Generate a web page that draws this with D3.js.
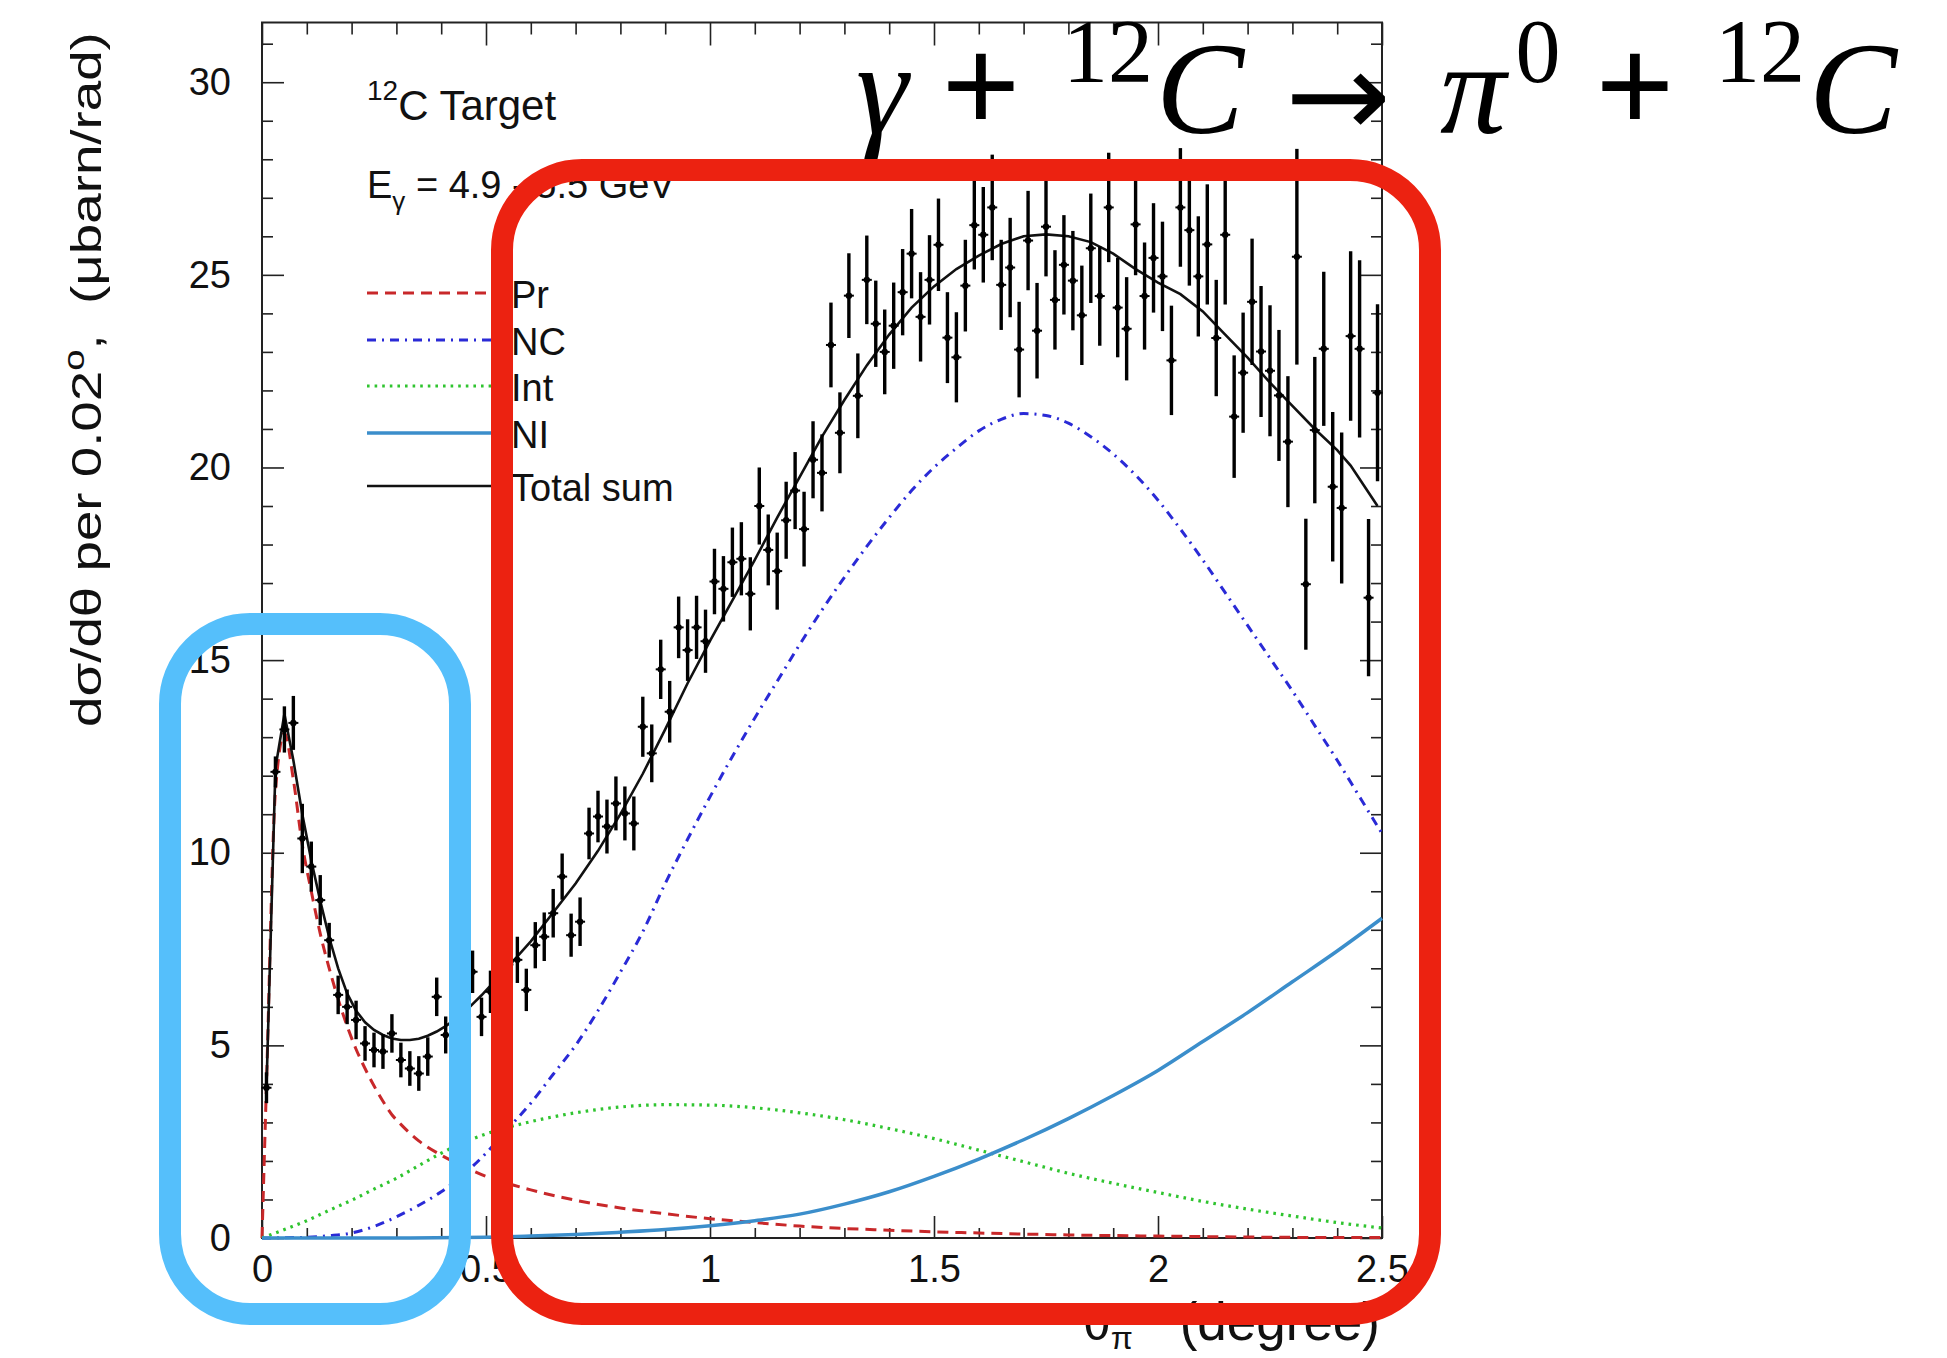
<!DOCTYPE html>
<html>
<head>
<meta charset="UTF-8">
<script src="https://cdn.jsdelivr.net/npm/d3@7"></script>
<style>
body { margin: 0; background: #fff; }
svg text { font-family: "Liberation Sans", Arial, Helvetica, sans-serif; fill: #111; }
.serif { font-family: "Liberation Serif", "Times New Roman", "DejaVu Serif", serif !important; }
.arrow { font-family: "DejaVu Sans", sans-serif !important; }
</style>
</head>
<body>
<svg width="1947" height="1358"></svg>
<script>
// measured cross section, 0.02 degree bins starting at 0
const binWidth = 0.02;
const xsec = [
  3.90, 12.10, 13.20, 13.37, 10.37, 9.64, 8.77, 7.73, 6.31, 6.00,
  5.66, 5.05, 4.88, 4.84, 5.31, 4.62, 4.40, 4.27, 4.71, 6.26,
  5.27, 5.60, 6.00, 6.91, 5.74, 6.39, 6.90, 7.10, 7.22, 6.44,
  7.60, 7.82, 8.43, 9.38, 7.86, 8.21, 10.50, 10.94, 10.68, 11.28,
  11.02, 10.76, 13.27, 12.58, 14.76, 13.66, 15.85, 15.26, 15.85, 15.49,
  17.04, 16.85, 17.54, 17.63, 16.72, 19.00, 17.86, 17.31, 18.63, 19.40,
  18.40, 20.20, 19.86, 23.18, 20.90, 24.46, 21.86, 24.87, 23.73, 23.00,
  23.68, 24.55, 25.55, 23.91, 24.87, 25.78, 23.37, 22.86, 24.72, 26.29,
  26.04, 26.75, 24.74, 25.19, 23.06, 25.89, 23.55, 26.25, 24.35, 25.26,
  24.85, 23.95, 25.69, 24.45, 26.75, 24.15, 23.60, 26.31, 24.45, 25.44,
  24.96, 22.78, 26.75, 26.16, 24.96, 25.79, 23.36, 26.04, 21.32, 22.46,
  24.30, 23.01, 22.51, 21.87, 20.67, 25.47, 16.97, 20.97, 23.08, 19.50,
  18.95, 23.41, 23.08, 16.62, 21.94
];
const xsecErr = [
  0.40, 0.40, 0.60, 0.70, 0.90, 0.65, 0.65, 0.45, 0.50, 0.45,
  0.50, 0.45, 0.45, 0.45, 0.50, 0.45, 0.45, 0.45, 0.50, 0.50,
  0.48, 0.50, 0.50, 0.55, 0.50, 0.55, 0.55, 0.55, 0.60, 0.55,
  0.60, 0.63, 0.63, 0.60, 0.56, 0.63, 0.67, 0.67, 0.70, 0.70,
  0.70, 0.70, 0.78, 0.75, 0.77, 0.80, 0.80, 0.80, 0.82, 0.82,
  0.85, 0.85, 0.90, 0.95, 0.95, 1.00, 0.92, 1.00, 1.00, 1.00,
  0.97, 1.00, 1.00, 1.10, 1.05, 1.10, 1.10, 1.15, 1.12, 1.10,
  1.12, 1.12, 1.16, 1.16, 1.16, 1.20, 1.18, 1.17, 1.19, 1.15,
  1.24, 1.37, 1.17, 1.29, 1.24, 1.29, 1.24, 1.29, 1.29, 1.29,
  1.29, 1.29, 1.42, 1.29, 1.42, 1.29, 1.34, 1.32, 1.39, 1.42,
  1.42, 1.42, 1.54, 1.44, 1.56, 1.56, 1.51, 1.81, 1.59, 1.56,
  1.64, 1.70, 1.70, 1.70, 1.70, 2.80, 1.70, 1.90, 2.00, 1.94,
  1.96, 2.20, 2.30, 2.04, 2.30
];

// model components [theta, dsigma/dtheta]
const primakoff = [[0,0],[0.01,4.0],[0.03,11.6],[0.05,13.1],[0.07,11.9],[0.09,10.2],[0.11,9.0],
  [0.13,7.9],[0.15,7.0],[0.17,6.2],[0.19,5.5],[0.21,4.9],[0.23,4.4],[0.25,3.95],[0.27,3.55],
  [0.29,3.2],[0.31,2.95],[0.33,2.72],[0.35,2.52],[0.4,2.15],[0.45,1.86],[0.5,1.6],[0.6,1.25],
  [0.7,0.98],[0.8,0.78],[0.9,0.63],[1.0,0.5],[1.1,0.4],[1.2,0.31],[1.4,0.2],[1.6,0.13],
  [1.8,0.08],[2.0,0.05],[2.25,0.02],[2.5,0.01]];
const nuclCoherent = [[0,0],[0.1,0.02],[0.15,0.06],[0.2,0.13],[0.25,0.3],[0.3,0.55],[0.35,0.85],
  [0.4,1.2],[0.45,1.65],[0.5,2.2],[0.55,2.85],[0.6,3.5],[0.65,4.25],[0.7,5.0],[0.75,5.9],
  [0.8,6.9],[0.85,7.95],[0.9,9.2],[0.95,10.35],[1.0,11.45],[1.05,12.5],[1.1,13.5],[1.15,14.45],
  [1.2,15.4],[1.25,16.3],[1.3,17.15],[1.35,17.95],[1.4,18.7],[1.45,19.4],[1.5,20.0],[1.55,20.5],
  [1.6,20.95],[1.65,21.25],[1.7,21.4],[1.75,21.35],[1.8,21.15],[1.85,20.8],[1.9,20.35],
  [1.95,19.8],[2.0,19.15],[2.05,18.4],[2.1,17.6],[2.15,16.75],[2.2,15.9],[2.25,15.05],
  [2.3,14.2],[2.35,13.3],[2.4,12.4],[2.45,11.45],[2.5,10.5]];
const interference = [[0,0],[0.05,0.22],[0.1,0.45],[0.15,0.72],[0.2,0.98],[0.25,1.27],[0.3,1.55],
  [0.35,1.88],[0.4,2.2],[0.45,2.48],[0.5,2.7],[0.6,3.02],[0.7,3.25],[0.8,3.4],[0.9,3.46],
  [1.0,3.45],[1.1,3.38],[1.2,3.25],[1.3,3.07],[1.4,2.84],[1.5,2.58],[1.6,2.28],[1.7,1.98],
  [1.8,1.68],[1.9,1.42],[2.0,1.18],[2.1,0.95],[2.2,0.75],[2.3,0.57],[2.4,0.4],[2.5,0.26]];
const nuclIncoherent = [[0,0],[0.3,0],[0.5,0.02],[0.6,0.05],[0.7,0.09],[0.8,0.15],[0.9,0.22],
  [1.0,0.32],[1.1,0.45],[1.2,0.62],[1.3,0.88],[1.4,1.2],[1.5,1.6],[1.6,2.05],[1.7,2.55],
  [1.8,3.1],[1.9,3.7],[2.0,4.35],[2.1,5.1],[2.2,5.85],[2.3,6.65],[2.4,7.45],[2.5,8.3]];
const totalSum = [[0.01,3.9],[0.03,12.2],[0.05,13.6],[0.07,12.4],[0.09,11.0],[0.11,9.8],
  [0.13,8.75],[0.15,7.8],[0.17,7.0],[0.19,6.35],[0.21,5.9],[0.23,5.6],[0.25,5.4],[0.27,5.27],
  [0.29,5.18],[0.31,5.14],[0.33,5.14],[0.35,5.17],[0.37,5.25],[0.39,5.36],[0.41,5.5],
  [0.43,5.66],[0.45,5.84],[0.47,6.07],[0.49,6.3],[0.51,6.55],[0.55,7.05],[0.6,7.7],[0.65,8.45],
  [0.7,9.2],[0.75,10.05],[0.8,11.0],[0.85,12.05],[0.9,13.2],[0.95,14.4],[1.0,15.5],[1.05,16.55],
  [1.1,17.6],[1.15,18.7],[1.2,19.75],[1.25,20.8],[1.3,21.75],[1.35,22.65],[1.4,23.45],
  [1.45,24.15],[1.5,24.7],[1.55,25.15],[1.6,25.5],[1.65,25.8],[1.7,26.0],[1.75,26.05],
  [1.8,26.0],[1.85,25.85],[1.9,25.55],[1.95,25.15],[2.0,24.8],[2.05,24.5],[2.1,24.05],
  [2.15,23.45],[2.2,22.85],[2.25,22.2],[2.3,21.6],[2.35,21.0],[2.4,20.45],[2.43,20.05],[2.49,19.0]];

const yMajor = [0, 5, 10, 15, 20, 25, 30];
const xMajor = [0, 0.5, 1, 1.5, 2, 2.5];

const legendItems = [
  {label: "Pr", data: primakoff, color: "#c8282a", dash: "11,7", width: 3},
  {label: "NC", data: nuclCoherent, color: "#2a2ad6", dash: "9,6,2,6", width: 3},
  {label: "Int", data: interference, color: "#2fc42f", dash: "2.6,5", width: 3.2},
  {label: "NI", data: nuclIncoherent, color: "#3b8ecb", dash: null, width: 3.5},
  {label: "Total sum", data: totalSum, color: "#111", dash: null, width: 2.6}
];
const legendY = [293, 340, 386, 433, 486];

const svg = d3.select("svg");
svg.append("rect").attr("width", 1947).attr("height", 1358).attr("fill", "#fff");

const x = d3.scaleLinear().domain([0, 2.5]).range([262, 1382]);
const y = d3.scaleLinear().domain([0, 31.55]).range([1238, 22.5]);

const yMinor = d3.range(0, 32).filter(v => v % 5 !== 0);
const xMinor = d3.range(0, 26).map(i => i / 10).filter(v => Math.abs(v * 2 - Math.round(v * 2)) > 1e-6);

function styleAxis(g) {
  g.select(".domain").remove();
  g.attr("color", "#222").attr("font-size", 38).attr("font-family", null);
  g.selectAll("line").attr("stroke-width", 1.6);
}

// left axis with labels
svg.append("g").attr("transform", "translate(262,0)")
  .call(d3.axisLeft(y).tickValues(yMajor).tickSize(-22).tickSizeOuter(0).tickPadding(31).tickFormat(d3.format("d")))
  .call(styleAxis);
svg.append("g").attr("transform", "translate(262,0)")
  .call(d3.axisLeft(y).tickValues(yMinor).tickSize(-11).tickSizeOuter(0).tickFormat(""))
  .call(styleAxis);
// right axis
svg.append("g").attr("transform", "translate(1382,0)")
  .call(d3.axisRight(y).tickValues(yMajor).tickSize(-22).tickSizeOuter(0).tickFormat(""))
  .call(styleAxis);
svg.append("g").attr("transform", "translate(1382,0)")
  .call(d3.axisRight(y).tickValues(yMinor).tickSize(-11).tickSizeOuter(0).tickFormat(""))
  .call(styleAxis);
// bottom axis with labels
svg.append("g").attr("transform", "translate(0,1238)")
  .call(d3.axisBottom(x).tickValues(xMajor).tickSize(-22).tickSizeOuter(0).tickPadding(17).tickFormat(d3.format("")))
  .call(styleAxis);
svg.append("g").attr("transform", "translate(0,1238)")
  .call(d3.axisBottom(x).tickValues(xMinor).tickSize(-10).tickSizeOuter(0).tickFormat(""))
  .call(styleAxis);
// top axis
svg.append("g").attr("transform", "translate(0,22.5)")
  .call(d3.axisTop(x).tickValues(xMajor).tickSize(-23).tickSizeOuter(0).tickFormat(""))
  .call(styleAxis);
svg.append("g").attr("transform", "translate(0,22.5)")
  .call(d3.axisTop(x).tickValues(xMinor).tickSize(-12).tickSizeOuter(0).tickFormat(""))
  .call(styleAxis);

// frame
svg.append("rect")
  .attr("x", x(0)).attr("y", y(31.55))
  .attr("width", x(2.5) - x(0)).attr("height", y(0) - y(31.55))
  .attr("fill", "none").attr("stroke", "#222").attr("stroke-width", 2);

// model curves
const smooth = d3.line().x(d => x(d[0])).y(d => y(d[1])).curve(d3.curveMonotoneX);
const straight = d3.line().x(d => x(d[0])).y(d => y(d[1]));

legendItems.forEach(function(item, i) {
  svg.append("path")
    .attr("d", item.label == "Total sum" ? straight(item.data) : smooth(item.data))
    .attr("fill", "none")
    .attr("stroke", item.color)
    .attr("stroke-width", item.width)
    .attr("stroke-dasharray", item.dash);
});

// data points with error bars
const points = xsec.map(function(v, i) {
  return {t: (i + 0.5) * binWidth, v: v, e: xsecErr[i]};
});
const pts = svg.append("g").attr("stroke", "#000");
pts.selectAll(".err").data(points).join("line")
  .attr("class", "err")
  .attr("x1", d => x(d.t)).attr("x2", d => x(d.t))
  .attr("y1", d => y(d.v - d.e)).attr("y2", d => y(d.v + d.e))
  .attr("stroke-width", 3.4);
pts.selectAll(".cap").data(points).join("line")
  .attr("class", "cap")
  .attr("x1", d => x(d.t) - 5).attr("x2", d => x(d.t) + 5)
  .attr("y1", d => y(d.v)).attr("y2", d => y(d.v))
  .attr("stroke-width", 2);
pts.selectAll("circle").data(points).join("circle")
  .attr("cx", d => x(d.t)).attr("cy", d => y(d.v)).attr("r", 3.2)
  .attr("fill", "#000").attr("stroke", "none");

// legend
const legend = svg.append("g");
legend.selectAll("line").data(legendItems).join("line")
  .attr("x1", 367).attr("x2", 491)
  .attr("y1", (d, i) => legendY[i]).attr("y2", (d, i) => legendY[i])
  .attr("stroke", d => d.color)
  .attr("stroke-width", d => d.width)
  .attr("stroke-dasharray", d => d.dash);
legend.selectAll("text").data(legendItems).join("text")
  .attr("x", 511).attr("y", (d, i) => legendY[i] + 15)
  .attr("font-size", 38)
  .text(d => d.label);

const target = svg.append("text").attr("x", 367).attr("y", 120).attr("font-size", 42);
target.append("tspan").attr("font-size", 28).attr("dy", -20).text("12");
target.append("tspan").attr("dy", 20).text("C Target");

const beam = svg.append("text").attr("x", 367).attr("y", 198).attr("font-size", 38).style("white-space", "pre");
beam.append("tspan").text("E");
beam.append("tspan").attr("font-size", 26).attr("dy", 12).text("γ");
beam.append("tspan").attr("dy", -12).text(" = 4.9 - 5.5 GeV");

// axis titles
const yTitle = svg.append("text")
  .attr("font-size", 43)
  .style("white-space", "pre");
yTitle.append("tspan").text("dσ/dθ per 0.02");
yTitle.append("tspan").attr("font-size", 30).attr("dy", -17).text("o");
yTitle.append("tspan").attr("dy", 17).text(",  (μbarn/rad)");
const yTitleLen = yTitle.node().getComputedTextLength();
yTitle.attr("transform", "translate(101,727) rotate(-90) scale(" + (695 / yTitleLen) + ",1)");

const xTitle = svg.append("text").attr("x", 1083).attr("y", 1340).attr("font-size", 50);
xTitle.append("tspan").text("θ");
xTitle.append("tspan").attr("font-size", 32).attr("dy", 9).text("π");
svg.append("text").attr("x", 1380).attr("y", 1340).attr("font-size", 53)
  .attr("text-anchor", "end").text("(degree)");

// reaction
const reaction = [
  {s: "γ", cx: 882, base: 133, size: 132, italic: true},
  {s: "+", cx: 981, base: 133, size: 140, bold: true},
  {s: "12", cx: 1108, base: 82, size: 90},
  {s: "C", cx: 1200, base: 133, size: 132, italic: true},
  {s: "π", cx: 1473, base: 133, size: 132, italic: true},
  {s: "0", cx: 1538, base: 82, size: 90},
  {s: "+", cx: 1635, base: 133, size: 140, bold: true},
  {s: "12", cx: 1760, base: 82, size: 90},
  {s: "C", cx: 1853, base: 133, size: 132, italic: true}
];
svg.append("g").selectAll("text").data(reaction).join("text")
  .attr("class", "serif")
  .attr("x", d => d.cx).attr("y", d => d.base)
  .attr("text-anchor", "middle")
  .attr("font-size", d => d.size)
  .attr("font-style", d => d.italic ? "italic" : null)
  .attr("font-weight", d => d.bold ? "bold" : null)
  .style("fill", "#000")
  .text(d => d.s);
svg.append("text")
  .attr("class", "arrow")
  .attr("x", 1285).attr("y", 137)
  .attr("font-size", 120)
  .attr("textLength", 106).attr("lengthAdjust", "spacingAndGlyphs")
  .style("fill", "#000")
  .text("→");

// highlight boxes
svg.append("rect")
  .attr("x", 170).attr("y", 624).attr("width", 290).attr("height", 690)
  .attr("rx", 80).attr("ry", 80)
  .attr("fill", "none").attr("stroke", "#55bffb").attr("stroke-width", 22);
svg.append("rect")
  .attr("x", 502).attr("y", 170).attr("width", 928).attr("height", 1144)
  .attr("rx", 80).attr("ry", 80)
  .attr("fill", "none").attr("stroke", "#ec2211").attr("stroke-width", 22);
</script>
</body>
</html>
